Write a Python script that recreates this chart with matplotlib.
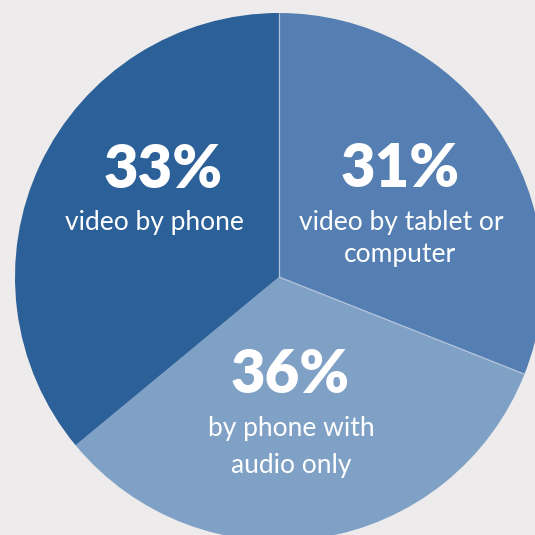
import numpy as np
import matplotlib.pyplot as plt

# slice sizes as drawn, clockwise from 12 o'clock
slices = ['tablet_computer', 'audio_only', 'video_phone']
sizes = [31, 33, 36]
colors = ['#557FB2', '#80A1C6', '#2C6099']

# printed labels
pct_labels = ['31%', '36%', '33%']
sub_labels = [['video by tablet or', 'computer'],
              ['by phone with', 'audio only'],
              ['video by phone']]

bg = '#EDEBEB'
H = 535
fig = plt.figure(figsize=(5.35, 5.35), dpi=100, facecolor=bg)
ax = fig.add_axes([0, 0, 1, 1])
ax.set_facecolor(bg)

cx, cy, r = 279, 277, 264
wedges, _ = ax.pie(sizes, colors=colors, startangle=90, counterclock=False,
                   center=(cx, H - cy), radius=r, frame=True,
                   wedgeprops=dict(linewidth=0))

# thin light seams around the first slice
for th in (wedges[0].theta1, wedges[0].theta2):
    t = np.deg2rad(th)
    ax.plot([cx, cx + r * np.cos(t)], [H - cy, H - cy + r * np.sin(t)],
            color='#B3C5DD', lw=0.9, solid_capstyle='butt')

ax.set_xlim(0, H)
ax.set_ylim(0, H)
ax.set_aspect('equal')
ax.axis('off')

# text layout (pixels from top): percent x/baseline, subtitle lines x/baseline
pos = [((400, 187), [(401, 230), (400, 262)]),
       ((290, 393), [(291, 436), (291, 473)]),
       ((163, 188), [(154, 230)])]

for ((px, py), subs), pct, lines in zip(pos, pct_labels, sub_labels):
    ax.text(px, H - py, pct, ha='center', va='baseline', color='white',
            fontsize=43, fontweight='heavy', family='Lato')
    for (x, y), line in zip(subs, lines):
        ax.text(x, H - y, line, ha='center', va='baseline', color='white',
                fontsize=19, fontweight='normal', family='Lato')

fig.savefig('out.png', dpi=100, facecolor=bg)
